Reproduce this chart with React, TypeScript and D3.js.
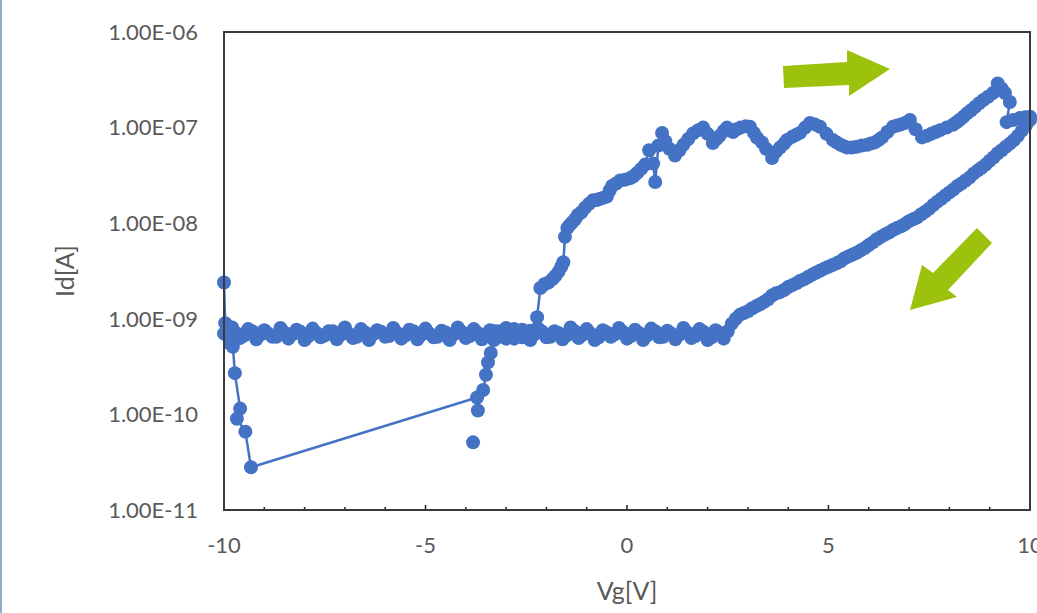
import React, { useEffect, useRef } from "react";
import * as d3 from "d3";

// forward sweep (Vg rising)
const fwdVg = [
  -10.0, -9.97, -9.93, -9.85, -9.78, -9.73, -9.6, -9.68, -9.47, -9.33,
  -3.72, -3.57, -3.5, -3.45, -3.38, -3.3, -3.2, -3.1, -3.0, -2.9, -2.8, -2.7, -2.6, -2.5, -2.4,
  -2.23, -2.15, -2.05, -1.95, -1.85, -1.78, -1.7, -1.63, -1.58, -1.54, -1.48, -1.42, -1.36, -1.29,
  -1.22, -1.13, -1.04, -0.94, -0.84, -0.75, -0.67, -0.58, -0.5, -0.43, -0.37, -0.27, -0.17, -0.05,
  0.07, 0.16, 0.25, 0.35, 0.45, 0.55, 0.65, 0.7, 0.78, 0.87, 0.95, 1.05, 1.19, 1.3, 1.4, 1.52,
  1.64, 1.77, 1.89, 2.0, 2.13, 2.22, 2.3, 2.4, 2.48, 2.56, 2.63, 2.72, 2.82, 2.95, 3.05, 3.15,
  3.23, 3.35, 3.45, 3.6, 3.7, 3.8, 3.9, 3.97, 4.1, 4.2, 4.29, 4.42, 4.54, 4.66, 4.79, 4.95,
  5.11, 5.2, 5.3, 5.38, 5.46, 5.58, 5.7, 5.83, 5.96, 6.05, 6.15, 6.24, 6.33, 6.46, 6.6, 6.7,
  6.8, 6.9, 7.02, 7.16, 7.32, 7.44, 7.55, 7.66, 7.77, 7.93, 8.09, 8.17, 8.25, 8.35, 8.44, 8.54,
  8.64, 8.74, 8.84, 8.96, 9.08, 9.2, 9.3, 9.38, 9.5, 9.42, 9.58, 9.75, 9.88, 10.0,
];
const fwdId = [
  2.4e-9, 9.0e-10, 7.0e-10, 5.5e-10, 5.1e-10, 2.7e-10, 1.15e-10, 9.0e-11, 6.6e-11, 2.8e-11,
  1.5e-10, 1.8e-10, 2.6e-10, 3.5e-10, 4.4e-10, 6.0e-10, 7.4e-10, 6.6e-10, 6.2e-10, 7.2e-10, 7.8e-10, 6.8e-10, 6.4e-10, 7.0e-10, 7.5e-10,
  1.04e-9, 2.1e-9, 2.3e-9, 2.4e-9, 2.6e-9, 2.8e-9, 3.1e-9, 3.5e-9, 3.9e-9, 7.2e-9, 8.9e-9, 9.6e-9, 1.02e-8, 1.1e-8,
  1.22e-8, 1.3e-8, 1.45e-8, 1.6e-8, 1.74e-8, 1.75e-8, 1.8e-8, 1.85e-8, 1.9e-8, 2.2e-8, 2.45e-8, 2.6e-8, 2.8e-8, 2.85e-8,
  2.95e-8, 3.1e-8, 3.35e-8, 3.7e-8, 4.1e-8, 5.8e-8, 4.2e-8, 2.7e-8, 6.5e-8, 8.8e-8, 7.2e-8, 6.0e-8, 5.1e-8, 5.8e-8, 6.6e-8, 7.6e-8,
  8.7e-8, 9.4e-8, 1.0e-7, 8.6e-8, 6.9e-8, 7.6e-8, 8.2e-8, 9.2e-8, 1.0e-7, 9.5e-8, 9.0e-8, 9.6e-8, 1.0e-7, 1.03e-7, 1.02e-7, 8.8e-8,
  7.8e-8, 7.0e-8, 6.0e-8, 4.8e-8, 5.6e-8, 6.2e-8, 6.8e-8, 7.4e-8, 8.0e-8, 8.4e-8, 8.8e-8, 1.0e-7, 1.12e-7, 1.08e-7, 1.02e-7, 8.6e-8,
  7.4e-8, 7.0e-8, 6.6e-8, 6.4e-8, 6.2e-8, 6.2e-8, 6.3e-8, 6.5e-8, 6.6e-8, 6.8e-8, 7.0e-8, 7.4e-8, 7.9e-8, 9.0e-8, 1.02e-7, 1.05e-7,
  1.08e-7, 1.12e-7, 1.2e-7, 9.6e-8, 7.9e-8, 8.2e-8, 8.6e-8, 9.0e-8, 9.4e-8, 1.0e-7, 1.07e-7, 1.13e-7, 1.2e-7, 1.3e-7, 1.41e-7, 1.52e-7,
  1.65e-7, 1.8e-7, 1.94e-7, 2.1e-7, 2.3e-7, 2.9e-7, 2.55e-7, 2.3e-7, 1.85e-7, 1.14e-7, 1.2e-7, 1.26e-7, 1.28e-7, 1.3e-7,
];

// reverse sweep (Vg falling from 10 to -10)
const revVg = [
  10.0, 9.9, 9.8, 9.7, 9.6, 9.5, 9.4, 9.3, 9.2, 9.1, 9.0, 8.9, 8.8, 8.7, 8.6, 8.5, 8.4, 8.3, 8.2, 8.1,
  8.0, 7.9, 7.8, 7.7, 7.6, 7.5, 7.4, 7.3, 7.2, 7.1, 7.0, 6.9, 6.8, 6.7, 6.6, 6.5, 6.4, 6.3, 6.2, 6.1,
  6.0, 5.9, 5.8, 5.7, 5.6, 5.5, 5.4, 5.3, 5.2, 5.1, 5.0, 4.9, 4.8, 4.7, 4.6, 4.5, 4.4, 4.3, 4.2, 4.1,
  4.0, 3.9, 3.8, 3.7, 3.6, 3.5, 3.4, 3.3, 3.2, 3.1, 3.0, 2.9, 2.8, 2.7, 2.6, 2.5, 2.4, 2.3, 2.2, 2.1,
  2.0, 1.9, 1.8, 1.7, 1.6, 1.5, 1.4, 1.3, 1.2, 1.1, 1.0, 0.9, 0.8, 0.7, 0.6, 0.5, 0.4, 0.3, 0.2, 0.1,
  0.0, -0.1, -0.2, -0.3, -0.4, -0.5, -0.6, -0.7, -0.8, -0.9, -1.0, -1.1, -1.2, -1.3, -1.4, -1.5, -1.6, -1.7, -1.8, -1.9,
  -2.0, -2.1, -2.2, -2.3, -2.4, -2.5, -2.6, -2.7, -2.8, -2.9, -3.0, -3.1, -3.2, -3.3, -3.4, -3.5, -3.6, -3.7, -3.8, -3.9,
  -4.0, -4.1, -4.2, -4.3, -4.4, -4.5, -4.6, -4.7, -4.8, -4.9, -5.0, -5.1, -5.2, -5.3, -5.4, -5.5, -5.6, -5.7, -5.8, -5.9,
  -6.0, -6.1, -6.2, -6.3, -6.4, -6.5, -6.6, -6.7, -6.8, -6.9, -7.0, -7.1, -7.2, -7.3, -7.4, -7.5, -7.6, -7.7, -7.8, -7.9,
  -8.0, -8.1, -8.2, -8.3, -8.4, -8.5, -8.6, -8.7, -8.8, -8.9, -9.0, -9.1, -9.2, -9.3, -9.4, -9.5, -9.6, -9.7, -9.8, -9.9,
  -10.0,
];
const revId = [
  1.2e-7, 1.05e-7, 9.3e-8, 8.2e-8, 7.4e-8, 6.8e-8, 6.3e-8, 5.8e-8, 5.4e-8, 4.9e-8, 4.5e-8, 4.1e-8, 3.8e-8, 3.55e-8, 3.3e-8, 3.0e-8, 2.8e-8, 2.6e-8, 2.45e-8, 2.25e-8,
  2.1e-8, 1.95e-8, 1.8e-8, 1.68e-8, 1.55e-8, 1.42e-8, 1.32e-8, 1.24e-8, 1.15e-8, 1.1e-8, 1.05e-8, 9.8e-9, 9.3e-9, 8.9e-9, 8.5e-9, 8.0e-9, 7.6e-9, 7.2e-9, 6.8e-9, 6.3e-9,
  5.9e-9, 5.5e-9, 5.2e-9, 4.9e-9, 4.7e-9, 4.5e-9, 4.3e-9, 4.0e-9, 3.8e-9, 3.65e-9, 3.5e-9, 3.35e-9, 3.2e-9, 3.05e-9, 2.9e-9, 2.75e-9, 2.6e-9, 2.5e-9, 2.35e-9, 2.25e-9,
  2.15e-9, 2.0e-9, 1.9e-9, 1.85e-9, 1.75e-9, 1.6e-9, 1.5e-9, 1.42e-9, 1.35e-9, 1.28e-9, 1.2e-9, 1.15e-9, 1.1e-9, 1.0e-9, 8.9e-10, 7.4e-10, 6.2e-10, 7.1e-10, 7.6e-10, 6.4e-10,
  6.0e-10, 7.3e-10, 7.8e-10, 6.6e-10, 6.3e-10, 7.2e-10, 8.0e-10, 6.8e-10, 6.1e-10, 7.0e-10, 7.5e-10, 6.5e-10, 6.4e-10, 7.4e-10, 7.9e-10, 6.7e-10, 6.0e-10, 7.1e-10, 7.7e-10, 6.6e-10,
  6.2e-10, 7.3e-10, 8.0e-10, 6.9e-10, 6.5e-10, 7.2e-10, 7.6e-10, 6.4e-10, 6.0e-10, 7.0e-10, 7.8e-10, 6.8e-10, 6.3e-10, 7.4e-10, 8.1e-10, 6.7e-10, 6.1e-10, 7.1e-10, 7.4e-10, 6.5e-10,
  6.4e-10, 7.3e-10, 7.9e-10, 6.9e-10, 6.0e-10, 7.2e-10, 7.7e-10, 6.6e-10, 6.2e-10, 7.0e-10, 8.0e-10, 6.8e-10, 6.5e-10, 7.4e-10, 7.6e-10, 6.7e-10, 6.1e-10, 7.1e-10, 7.8e-10, 6.6e-10,
  6.3e-10, 7.3e-10, 8.1e-10, 6.9e-10, 6.0e-10, 7.2e-10, 7.5e-10, 6.5e-10, 6.4e-10, 7.0e-10, 7.9e-10, 6.8e-10, 6.1e-10, 7.4e-10, 7.7e-10, 6.7e-10, 6.2e-10, 7.1e-10, 8.0e-10, 6.6e-10,
  6.5e-10, 7.3e-10, 7.6e-10, 6.9e-10, 6.0e-10, 7.2e-10, 7.8e-10, 6.5e-10, 6.3e-10, 7.0e-10, 8.1e-10, 6.8e-10, 6.1e-10, 7.4e-10, 7.4e-10, 6.7e-10, 6.4e-10, 7.1e-10, 7.9e-10, 6.6e-10,
  6.0e-10, 7.3e-10, 7.7e-10, 6.9e-10, 6.2e-10, 7.2e-10, 8.0e-10, 6.5e-10, 6.5e-10, 7.0e-10, 7.6e-10, 6.8e-10, 6.1e-10, 7.4e-10, 7.8e-10, 6.7e-10, 6.3e-10, 7.1e-10, 8.1e-10, 6.6e-10,
  7.0e-10,
];

// two stray points not joined by the line
const strayVg = [-3.7, -3.82];
const strayId = [1.1e-10, 5.1e-11];

const xTicks = [-10, -5, 0, 5, 10];
const yTicks = [1e-11, 1e-10, 1e-9, 1e-8, 1e-7, 1e-6];
const yTickLabels = ["1.00E-11", "1.00E-10", "1.00E-09", "1.00E-08", "1.00E-07", "1.00E-06"];

const BLUE = "#4472c4";
const GREEN = "#9cc20e";
const GREY = "#595959";
const FONT = "Lato, 'Open Sans', sans-serif";

const App = () => {
  const ref = useRef<SVGSVGElement>(null);

  useEffect(() => {
    const width = 1037,
      height = 613;
    const margin = { top: 32, right: 7, bottom: 103, left: 224 };

    const svg = d3.select(ref.current);
    svg.selectAll("*").remove();

    const x = d3
      .scaleLinear()
      .domain([-10, 10])
      .range([margin.left, width - margin.right]);
    const y = d3
      .scaleLog()
      .domain([1e-11, 1e-6])
      .range([height - margin.bottom, margin.top]);

    svg.append("rect").attr("width", width).attr("height", height).attr("fill", "#fff");
    // thin frame line at the left edge of the screenshot
    svg.append("rect").attr("x", 0).attr("y", 0).attr("width", 2).attr("height", height).attr("fill", "#8eaccb");

    // green direction arrows
    svg
      .append("polygon")
      .attr("points", "783,66 847,62 847,50 890,69 849,96 849,85 784,88")
      .attr("fill", GREEN);
    svg
      .append("polygon")
      .attr("points", "977,228 992,243 948,290 957,297 910,310 922,265 933,273")
      .attr("fill", GREEN);

    // series
    const fwd = fwdVg.map((v, i) => ({ vg: v, id: fwdId[i] }));
    const rev = revVg.map((v, i) => ({ vg: v, id: revId[i] }));
    const all = fwd.concat(rev);
    const stray = strayVg.map((v, i) => ({ vg: v, id: strayId[i] }));

    const line = d3
      .line<{ vg: number; id: number }>()
      .x((d) => x(d.vg))
      .y((d) => y(d.id));

    svg
      .append("path")
      .datum(all)
      .attr("fill", "none")
      .attr("stroke", BLUE)
      .attr("stroke-width", 2.5)
      .attr("stroke-linejoin", "round")
      .attr("d", line);

    svg
      .append("g")
      .selectAll("circle")
      .data(all.concat(stray))
      .join("circle")
      .attr("cx", (d) => x(d.vg))
      .attr("cy", (d) => y(d.id))
      .attr("r", 7)
      .attr("fill", BLUE);

    // x axis small ticks inside the frame
    const g = svg.append("g");
    g.selectAll("line")
      .data(d3.range(-9, 10))
      .join("line")
      .attr("x1", (d) => x(d))
      .attr("x2", (d) => x(d))
      .attr("y1", y(1e-11))
      .attr("y2", (d) => y(1e-11) - (d % 5 === 0 ? 5 : 3))
      .attr("stroke", "#222")
      .attr("stroke-width", 1.5);

    // plot frame
    svg
      .append("rect")
      .attr("x", x(-10))
      .attr("y", y(1e-6))
      .attr("width", x(10) - x(-10))
      .attr("height", y(1e-11) - y(1e-6))
      .attr("fill", "none")
      .attr("stroke", "#3a3a3a")
      .attr("stroke-width", 2);

    // tick labels
    svg
      .append("g")
      .selectAll("text")
      .data(xTicks)
      .join("text")
      .attr("x", (d) => x(d))
      .attr("y", y(1e-11) + 43)
      .attr("text-anchor", "middle")
      .attr("fill", GREY)
      .attr("font-family", FONT)
      .attr("font-size", 22)
      .text((d) => d);

    svg
      .append("g")
      .selectAll("text")
      .data(yTicks)
      .join("text")
      .attr("x", 198)
      .attr("y", (d) => y(d))
      .attr("dy", "0.35em")
      .attr("text-anchor", "end")
      .attr("fill", GREY)
      .attr("font-family", FONT)
      .attr("font-size", 22)
      .text((d, i) => yTickLabels[i]);

    // axis titles
    svg
      .append("text")
      .attr("x", (x(-10) + x(10)) / 2)
      .attr("y", 591)
      .attr("dy", "0.35em")
      .attr("text-anchor", "middle")
      .attr("fill", GREY)
      .attr("font-family", FONT)
      .attr("font-size", 25)
      .text("Vg[V]");

    svg
      .append("text")
      .attr("transform", `translate(65,${(y(1e-6) + y(1e-11)) / 2}) rotate(-90)`)
      .attr("dy", "0.35em")
      .attr("text-anchor", "middle")
      .attr("fill", GREY)
      .attr("font-family", FONT)
      .attr("font-size", 25)
      .text("Id[A]");
  }, []);

  return (
    <svg
      ref={ref}
      width={1037}
      height={613}
      style={{ position: "absolute", left: 0, top: 0, display: "block" }}
    />
  );
};

export default App;
